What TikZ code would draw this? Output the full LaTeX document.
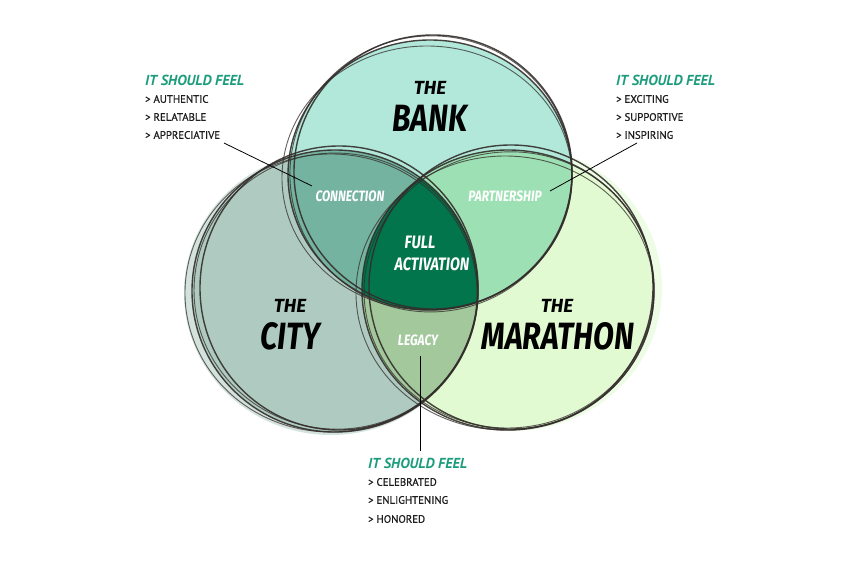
\documentclass[tikz,border=0pt]{standalone}
\usepackage{fontspec}
\setmainfont{PT Sans}
\newfontfamily\itemfont[FakeBold=0.7]{PT Sans}
\newfontfamily\brush{Fira Sans}
\definecolor{bankfill}{HTML}{B2E8DA}
\definecolor{cityfill}{HTML}{AFCBC1}
\definecolor{marafill}{HTML}{E1FAD2}
\definecolor{connfill}{HTML}{74B3A0}
\definecolor{partfill}{HTML}{9DE0B3}
\definecolor{legfill}{HTML}{A2C89C}
\definecolor{fullfill}{HTML}{02754D}
\definecolor{headteal}{HTML}{1B9C7C}
\definecolor{inkline}{HTML}{332D2B}
\definecolor{listink}{HTML}{1E1E1E}
\begin{document}
\begin{tikzpicture}[x=1pt,y=-1pt,
  sk/.style={draw=inkline,line width=1.4pt,opacity=0.9},
  skthin/.style={draw=inkline,line width=0.9pt,opacity=0.75},
  head/.style={text=headteal,font=\bfseries\itshape\fontsize{14.5}{14.5}\selectfont,anchor=west,inner sep=0pt},
  item/.style={text=listink,font=\itemfont\fontsize{10.8}{10.8}\selectfont,anchor=west,inner sep=0pt},
  the/.style={text=black,font=\brush\bfseries\itshape\fontsize{19}{19}\selectfont,inner sep=0pt},
  big/.style={text=black,font=\brush\bfseries\itshape\fontsize{38}{38}\selectfont,inner sep=0pt},
  region/.style={text=white,font=\brush\bfseries\itshape\fontsize{15}{15}\selectfont,inner sep=0pt},
  leader/.style={draw=black,line width=0.8pt}]
\useasboundingbox (0,0) rectangle (860,570);
\fill[white] (0,0) rectangle (860,570);
% base fills (with soft halos)
\fill[marafill!60] (512,288) ellipse [x radius=150pt, y radius=143pt];
\fill[cityfill!55] (331,293) ellipse [x radius=147pt, y radius=142pt];
\fill[bankfill] (430,175) ellipse [x radius=142pt, y radius=135pt];
\fill[cityfill] (335,291) ellipse [x radius=143pt, y radius=141pt];
\fill[marafill] (508,290) ellipse [x radius=146pt, y radius=140pt];
% pairwise intersections
\begin{scope}
  \clip (430,175) ellipse [x radius=142pt, y radius=135pt];
  \fill[connfill] (335,291) ellipse [x radius=143pt, y radius=141pt];
\end{scope}
\begin{scope}
  \clip (430,175) ellipse [x radius=142pt, y radius=135pt];
  \fill[partfill] (508,290) ellipse [x radius=146pt, y radius=140pt];
\end{scope}
\begin{scope}
  \clip (335,291) ellipse [x radius=143pt, y radius=141pt];
  \fill[legfill] (508,290) ellipse [x radius=146pt, y radius=140pt];
\end{scope}
\begin{scope}
  \clip (430,175) ellipse [x radius=142pt, y radius=135pt];
  \clip (335,291) ellipse [x radius=143pt, y radius=141pt];
  \fill[fullfill] (508,290) ellipse [x radius=146pt, y radius=140pt];
\end{scope}
% sketchy outlines: bank
\draw[sk] (430,175) ellipse [x radius=142pt, y radius=135pt];
\draw[sk] (433,172) ellipse [x radius=139pt, y radius=137pt];
\draw[skthin] (427,178) ellipse [x radius=145pt, y radius=132pt];
\draw[skthin,rotate around={5:(430,175)}] (431,174) ellipse [x radius=141pt, y radius=138pt];
% city
\draw[sk] (335,291) ellipse [x radius=143pt, y radius=141pt];
\draw[sk] (339,288) ellipse [x radius=139pt, y radius=142pt];
\draw[skthin] (331,293) ellipse [x radius=146pt, y radius=139pt];
\draw[skthin,rotate around={-6:(335,291)}] (336,291) ellipse [x radius=142pt, y radius=138pt];
% marathon
\draw[sk] (508,290) ellipse [x radius=146pt, y radius=140pt];
\draw[sk] (511,287) ellipse [x radius=142pt, y radius=142pt];
\draw[skthin] (505,293) ellipse [x radius=149pt, y radius=137pt];
\draw[skthin,rotate around={6:(508,290)}] (509,290) ellipse [x radius=145pt, y radius=138pt];
% circle titles
\node[the] (bankthe) at (430,88) {THE};
\node[big] (bankname) at (430,118) {\scalebox{0.8}[1]{BANK}};
\node[the] (citythe) at (290,306) {THE};
\node[big] (cityname) at (290,336) {\scalebox{0.8}[1]{CITY}};
\node[the] (marathe) at (557,306) {THE};
\node[big] (maraname) at (558,336) {\scalebox{0.8}[1]{MARATHON}};
% region labels
\node[region] (conn) at (350,196) {\scalebox{0.8}[1]{CONNECTION}};
\node[region] (part) at (505,196) {\scalebox{0.8}[1]{PARTNERSHIP}};
\node[region,font=\brush\bfseries\itshape\fontsize{18}{18}\selectfont] (full1) at (420,242) {\scalebox{0.8}[1]{FULL}};
\node[region,font=\brush\bfseries\itshape\fontsize{18}{18}\selectfont] (full2) at (432,264) {\scalebox{0.8}[1]{ACTIVATION}};
\node[region] (leg) at (418,340) {\scalebox{0.8}[1]{LEGACY}};
% left note
\node[head] (lh) at (145,80) {IT SHOULD FEEL};
\node[item] (l1) at (145,99) {> AUTHENTIC};
\node[item] (l2) at (145,117) {> RELATABLE};
\node[item] (l3) at (145,135) {> APPRECIATIVE};
% right note
\node[head] (rh) at (616,80) {IT SHOULD FEEL};
\node[item] (r1) at (616,99) {> EXCITING};
\node[item] (r2) at (616,117) {> SUPPORTIVE};
\node[item] (r3) at (616,135) {> INSPIRING};
% bottom note
\node[head] (bh) at (368,463) {IT SHOULD FEEL};
\node[item] (b1) at (368,482) {> CELEBRATED};
\node[item] (b2) at (368,500) {> ENLIGHTENING};
\node[item] (b3) at (368,519) {> HONORED};
% leaders
\coordinate (lstart) at (224,143);
\coordinate (lend) at (312,186);
\coordinate (rstart) at (637,143);
\coordinate (rend) at (550,191);
\coordinate (bstart) at (420,356);
\coordinate (bend) at (420,451);
\draw[leader] (lstart) -- (lend);
\draw[leader] (rstart) -- (rend);
\draw[leader] (bstart) -- (bend);
\end{tikzpicture}
\end{document}
